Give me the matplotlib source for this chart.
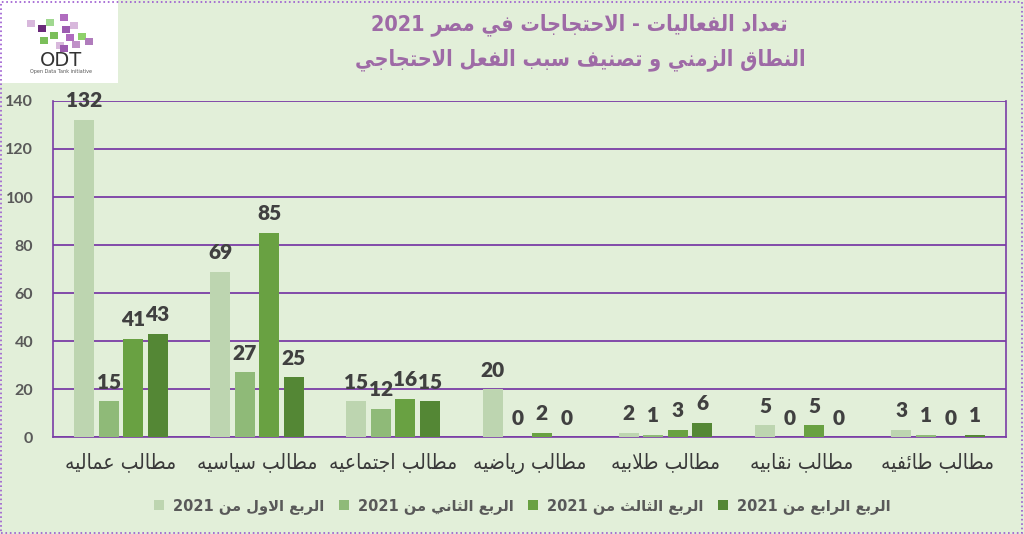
import re
import matplotlib
matplotlib.use("Agg")
import matplotlib.pyplot as plt
from matplotlib.patches import Patch, Rectangle
import numpy as np

# البيانات
categories = ["مطالب عماليه", "مطالب سياسيه", "مطالب اجتماعيه", "مطالب رياضيه",
              "مطالب طلابيه", "مطالب نقابيه", "مطالب طائفيه"]
q1 = [132, 69, 15, 20, 2, 5, 3]
q2 = [15, 27, 12, 0, 1, 0, 1]
q3 = [41, 85, 16, 2, 3, 5, 0]
q4 = [43, 25, 15, 0, 6, 0, 1]
series_names = ["الربع الاول من 2021", "الربع الثاني من 2021",
                "الربع الثالث من 2021", "الربع الرابع من 2021"]
title_1 = "تعداد الفعاليات - الاحتجاجات في مصر 2021"
title_2 = "النطاق الزمني و تصنيف سبب الفعل الاحتجاجي"
colors = ["#bdd5b0", "#8fba78", "#69a142", "#548735"]

# تشكيل الحروف العربية (matplotlib لا يقوم بذلك)
_tbl = [('ء', 0xFE80, 1), ('آ', 0xFE81, 2), ('أ', 0xFE83, 2), ('ؤ', 0xFE85, 2),
        ('إ', 0xFE87, 2), ('ئ', 0xFE89, 4), ('ا', 0xFE8D, 2), ('ب', 0xFE8F, 4),
        ('ة', 0xFE93, 2), ('ت', 0xFE95, 4), ('ث', 0xFE99, 4), ('ج', 0xFE9D, 4),
        ('ح', 0xFEA1, 4), ('خ', 0xFEA5, 4), ('د', 0xFEA9, 2), ('ذ', 0xFEAB, 2),
        ('ر', 0xFEAD, 2), ('ز', 0xFEAF, 2), ('س', 0xFEB1, 4), ('ش', 0xFEB5, 4),
        ('ص', 0xFEB9, 4), ('ض', 0xFEBD, 4), ('ط', 0xFEC1, 4), ('ظ', 0xFEC5, 4),
        ('ع', 0xFEC9, 4), ('غ', 0xFECD, 4), ('ف', 0xFED1, 4), ('ق', 0xFED5, 4),
        ('ك', 0xFED9, 4), ('ل', 0xFEDD, 4), ('م', 0xFEE1, 4), ('ن', 0xFEE5, 4),
        ('ه', 0xFEE9, 4), ('و', 0xFEED, 2), ('ى', 0xFEEF, 2), ('ي', 0xFEF1, 4)]
FORMS = {c: (s, k) for c, s, k in _tbl}


def shape(text):
    res = []
    i = 0
    n = len(text)
    while i < n:
        c = text[i]
        if c not in FORMS:
            res.append(c)
            i += 1
            continue
        prev = text[i - 1] if i > 0 else ''
        p = prev in FORMS and FORMS[prev][1] == 4
        if c == 'ل' and i + 1 < n and text[i + 1] == 'ا':
            res.append(chr(0xFEFC if p else 0xFEFB))
            i += 2
            continue
        start, k = FORMS[c]
        nxt = text[i + 1] if i + 1 < n else ''
        q = k == 4 and nxt in FORMS
        if p and q:
            res.append(chr(start + 3))
        elif p and k > 1:
            res.append(chr(start + 1))
        elif q:
            res.append(chr(start + 2))
        else:
            res.append(chr(start))
        i += 1
    return ''.join(res)


def ar(text):
    s = shape(text)[::-1]
    return re.sub(r'[0-9]+', lambda m: m.group(0)[::-1], s)


bg = "#e2efd9"
purple = "#7a3da6"

fig = plt.figure(figsize=(10.24, 5.34), dpi=100, facecolor=bg)
ax = fig.add_axes([0.0515, 0.181, 0.931, 0.630], facecolor=bg)

x = np.arange(len(categories))
width = 0.147
offsets = [-0.27, -0.09, 0.09, 0.27]
for vals, off, col, name in zip([q1, q2, q3, q4], offsets, colors, series_names):
    bars = ax.bar(x + off, vals, width, color=col, zorder=3)
    for b, v in zip(bars, vals):
        ax.annotate(str(v), (b.get_x() + b.get_width() / 2, v),
                    xytext=(0, 7), textcoords="offset points",
                    ha="center", va="bottom", fontsize=15, fontweight="heavy",
                    color="#404040", family="Lato", zorder=4)

ax.set_xlim(-0.5, 6.5)
ax.set_ylim(0, 140)
ax.set_yticks(range(0, 141, 20))
ax.yaxis.grid(True, color=purple, lw=1.3, zorder=1)
ax.set_axisbelow(True)
for s in ["left", "bottom", "right"]:
    ax.spines[s].set_color(purple)
    ax.spines[s].set_linewidth(1.2)
ax.spines["top"].set_visible(False)
ax.tick_params(length=0)
ax.tick_params(axis="y", pad=14, labelsize=11.5, labelcolor="#595959")
for t in ax.get_yticklabels():
    t.set_family("Lato")
    t.set_fontweight("bold")
ax.set_xticks(x)
ax.set_xticklabels([ar(c) for c in categories], fontsize=15, color="#3a3a3a",
                   family="DejaVu Sans", fontstretch="condensed")
ax.tick_params(axis="x", pad=11)

# العنوان
tkw = dict(ha="center", va="center", fontsize=15.5, fontweight="bold",
           color="#9e6aa6", family="DejaVu Sans", fontstretch="condensed")
fig.text(0.566, 1 - 25 / 534, ar(title_1), **tkw)
fig.text(0.567, 1 - 60 / 534, ar(title_2), **tkw)

# وسيلة الإيضاح
handles = [Patch(facecolor=c, edgecolor="none") for c in colors]
leg = fig.legend(handles, [ar(s) for s in series_names], loc="center",
                 bbox_to_anchor=(0.51, 1 - 506 / 534), ncol=4, frameon=False,
                 handlelength=0.7, handleheight=0.7, handletextpad=0.6,
                 columnspacing=1.0, prop={"family": "DejaVu Sans", "size": 10.5,
                                          "weight": "bold"})
for t in leg.get_texts():
    t.set_color("#595959")

# الشعار
lax = fig.add_axes([0, 1 - 83 / 534, 118 / 1024, 83 / 534], facecolor="white")
lax.set_xlim(0, 118)
lax.set_ylim(83, 0)
lax.axis("off")
lax.add_patch(Rectangle((0, 0), 118, 83, facecolor="white", edgecolor="none"))
cubes = [(27, 20, "#d8b8dc"), (38, 25, "#6a2a7a"), (46, 19, "#a0d890"),
         (60, 14, "#b06cbf"), (50, 32, "#7bbf5a"), (62, 26, "#9c5cb0"),
         (70, 22, "#d8b8dc"), (66, 34, "#b06cbf"), (78, 33, "#8ed06a"),
         (40, 37, "#7bbf5a"), (56, 42, "#d8b8dc"), (85, 38, "#b07cbc"),
         (60, 45, "#9c5cb0"), (72, 41, "#c090c8")]
for cx, cy, cc in cubes:
    lax.add_patch(Rectangle((cx, cy), 8, 7, facecolor=cc, edgecolor="none"))
lax.text(61, 60, "ODT", ha="center", va="center", fontsize=14,
         color="#333333", family="DejaVu Sans")
lax.text(61, 71, "Open Data Tank initiative", ha="center", va="center",
         fontsize=3.5, color="#555555")

# إطار منقط
fig.patches.append(Rectangle((0.001, 0.002), 0.997, 0.995, transform=fig.transFigure,
                             fill=False, edgecolor="#9b59d0", lw=1.2, ls=":"))

fig.savefig("out.png", dpi=100, facecolor=bg)
